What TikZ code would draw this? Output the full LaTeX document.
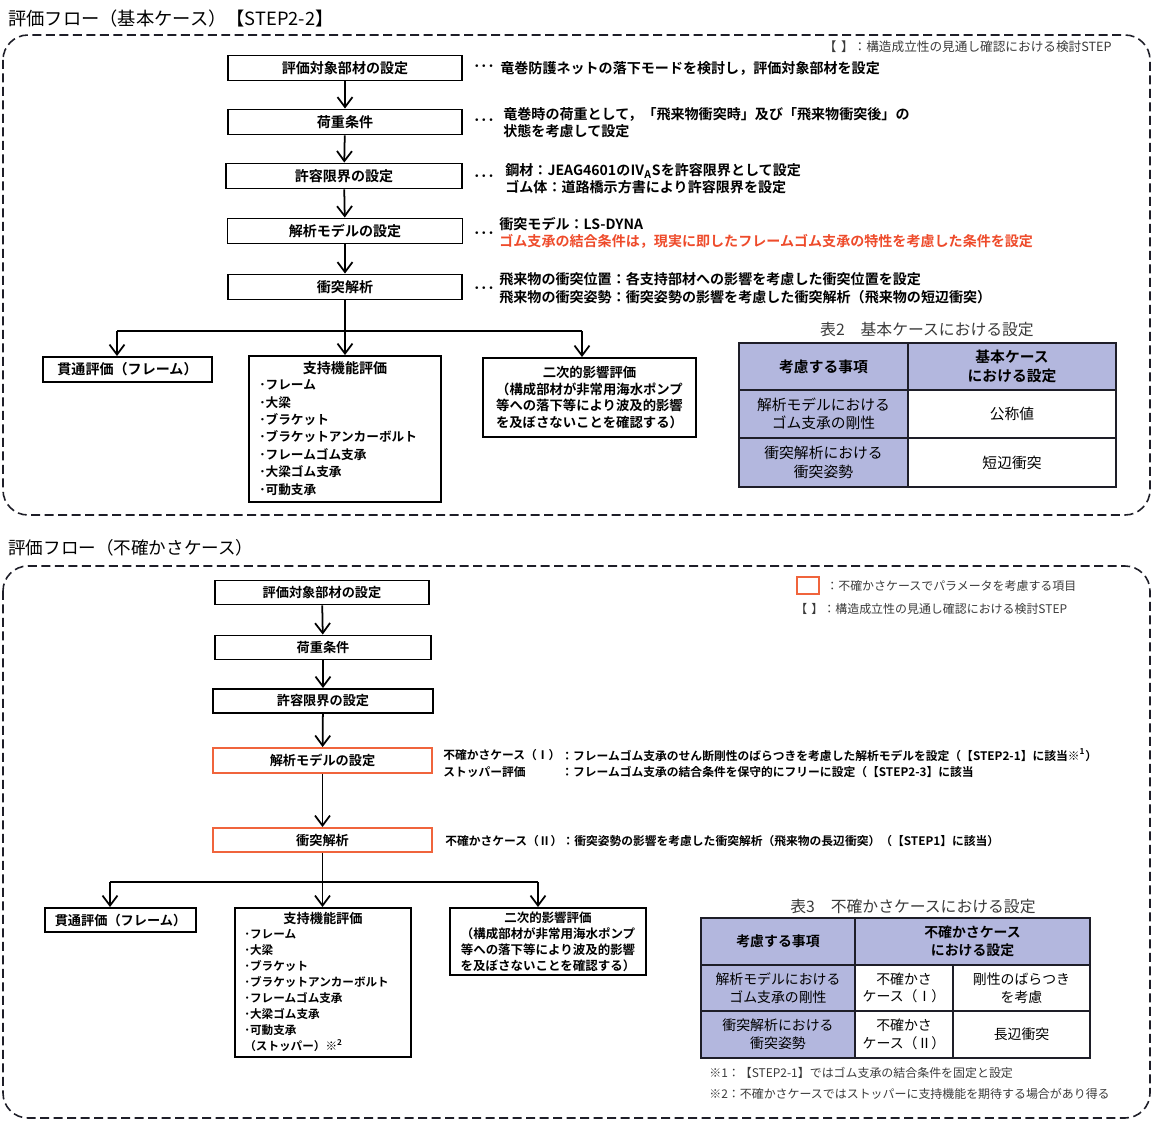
\documentclass[tikz,border=0pt]{standalone}
\usepackage{fontspec}
\setmainfont{Noto Sans CJK JP}[BoldFont={Noto Sans CJK JP Bold}]
\usepackage{tikz}
\usetikzlibrary{positioning,arrows.meta,calc}
\usepackage{xcolor}
\definecolor{lavanda}{HTML}{B3B7DE}
\definecolor{naranja}{HTML}{F0643C}
\definecolor{rojo}{HTML}{EE4B2B}
\definecolor{tinta}{HTML}{1E1E28}
\definecolor{gris}{HTML}{3A3A3A}

\tikzset{
  tam/.style 2 args={minimum width=#1*0.02cm, minimum height=#2*0.02cm},
  caja/.style={draw=black, line width=1.1pt, inner sep=0pt, align=center,
               font=\bfseries\fontsize{8}{9.7}\selectfont},
  cajab/.style={caja, font=\bfseries\fontsize{7.5}{9.1}\selectfont},
  cajan/.style={cajab, draw=naranja},
  flecha/.style={-{Straight Barb[length=2mm,width=3mm]}, line width=1pt},
  linea/.style={line width=1pt},
  marco/.style={draw=tinta, dashed, dash pattern=on 1.8mm off 0.9mm, line width=0.9pt,
                rounded corners=0.5cm},
  titulo/.style={anchor=west, inner sep=0pt, font=\fontsize{10}{12}\selectfont},
  nota/.style={anchor=west, align=left, inner sep=0pt, font=\bfseries\fontsize{8}{9.9}\selectfont},
  notab/.style={anchor=west, inner sep=0pt, font=\bfseries\fontsize{6.7}{8}\selectfont},
  puntos/.style={inner sep=0pt, font=\bfseries\fontsize{8}{8}\selectfont},
  lista/.style={anchor=west, align=left, inner sep=0pt, font=\bfseries\fontsize{7.2}{9.9}\selectfont},
  listab/.style={anchor=west, align=left, inner sep=0pt, font=\bfseries\fontsize{6.6}{9.1}\selectfont},
  leyenda/.style={inner sep=0pt, font=\fontsize{7.2}{8.5}\selectfont, text=gris},
  leyendab/.style={leyenda, anchor=west, font=\fontsize{6.8}{8}\selectfont},
  rotulo/.style={inner sep=0pt, font=\fontsize{9}{10}\selectfont, text=gris},
  celda/.style={draw=tinta, line width=1pt, inner sep=0pt, align=center,
                font=\fontsize{8.4}{10.5}\selectfont},
  celdal/.style={celda, fill=lavanda},
  celdah/.style={celdal, font=\bfseries\fontsize{8.4}{10.5}\selectfont},
  celdab/.style={celda, font=\fontsize{7.9}{10}\selectfont},
  celdabl/.style={celdab, fill=lavanda},
  celdabh/.style={celdabl, font=\bfseries\fontsize{7.9}{10}\selectfont},
  pie/.style={anchor=west, inner sep=0pt, font=\fontsize{6.8}{8}\selectfont, text=gris}
}

\begin{document}
\begin{tikzpicture}[x=0.02cm, y=-0.02cm]
\useasboundingbox (0,0) rectangle (1153,1122);

% ---------------- caso base
\node[titulo, font=\fontsize{10.4}{12}\selectfont] (tit1) at (8,19) {評価フロー（基本ケース）【STEP2-2】};
\draw[marco] (3,35) rectangle (1150,515);
\node[leyenda, anchor=east] (ley1) at (1112,47) {【\hspace{0.35em}】：構造成立性の見通し確認における検討STEP};

\node[caja, tam={234}{25}] (a1) at (345,68) {評価対象部材の設定};
\node[caja, tam={234}{25}] (a2) at (345,122) {荷重条件};
\node[caja, tam={236}{25}] (a3) at (344,176) {許容限界の設定};
\node[caja, tam={235}{25}] (a4) at (345,231) {解析モデルの設定};
\node[caja, tam={234}{25}] (a5) at (345,287) {衝突解析};
\foreach \i/\j in {a1/a2,a2/a3,a3/a4,a4/a5}
  \draw[flecha] (\i) -- (\j);

% notas
\node[puntos] (d1) at (484,68) {･･･};
\node[nota] (n1) at (500,68) {竜巻防護ネットの落下モードを検討し，評価対象部材を設定};
\node[puntos] (d2) at (484,122) {･･･};
\node[nota] (n2) at (503,122.5) {竜巻時の荷重として，「飛来物衝突時」及び「飛来物衝突後」の\\状態を考慮して設定};
\node[puntos] (d3) at (484,178) {･･･};
\node[nota] (n3) at (505,178.5) {鋼材：JEAG4601のⅣ\textsubscript{A}Sを許容限界として設定\\ゴム体：道路橋示方書により許容限界を設定};
\node[puntos] (d4) at (484,235) {･･･};
\node[nota] (n4) at (499,233) {衝突モデル：LS-DYNA\\\textcolor{rojo}{ゴム支承の結合条件は，現実に即したフレームゴム支承の特性を考慮した条件を設定}};
\node[puntos] (d5) at (484,290) {･･･};
\node[nota] (n5) at (499,288) {飛来物の衝突位置：各支持部材への影響を考慮した衝突位置を設定\\飛来物の衝突姿勢：衝突姿勢の影響を考慮した衝突解析（飛来物の短辺衝突）};

% ramas
\node[caja, tam={169}{25}] (p1) at (127.5,369.5) {貫通評価（フレーム）};
\node[caja, tam={192}{146}] (s1) at (345,429) {};
\node[caja, font=\bfseries\fontsize{8}{9.7}\selectfont, draw=none] (s1t) at (345,368) {支持機能評価};
\node[lista] (s1l) at (259,437.5) {･フレーム\\･大梁\\･ブラケット\\･ブラケットアンカーボルト\\･フレームゴム支承\\･大梁ゴム支承\\･可動支承};
\node[caja, tam={213}{79}, font=\bfseries\fontsize{7.6}{9.6}\selectfont] (q1) at (589.5,397.5)
  {二次的影響評価\\（構成部材が非常用海水ポンプ\\等への落下等により波及的影響\\を及ぼさないことを確認する）};

\coordinate (ul) at (117,331);
\coordinate (ur) at (582,331);
\draw[flecha] (a5) -- (s1);
\draw[linea] (ul) -- (ur);
\draw[flecha] (ul) -- (ul |- p1.north);
\draw[flecha] (ur) -- (ur |- q1.north);

% tabla 2
\node[rotulo] (cap2) at (927,330) {表2　基本ケースにおける設定};
\node[celdah, tam={169}{47}] (t2a) at (823.5,366.5) {考慮する事項};
\node[celdah, tam={208}{47}] (t2b) at (1012,366.5) {基本ケース\\における設定};
\node[celdal, tam={169}{48}] (t2c) at (823.5,414) {解析モデルにおける\\ゴム支承の剛性};
\node[celda, tam={208}{48}] (t2d) at (1012,414) {公称値};
\node[celdal, tam={169}{49}] (t2e) at (823.5,462.5) {衝突解析における\\衝突姿勢};
\node[celda, tam={208}{49}] (t2f) at (1012,462.5) {短辺衝突};

% ---------------- caso de incertidumbre
\node[titulo] (tit2) at (8,548) {評価フロー（不確かさケース）};
\draw[marco] (3,566) rectangle (1150,1118);
\node[draw=naranja, line width=1.3pt, inner sep=0pt, tam={22}{17}] (cuad) at (808,585.5) {};
\node[leyendab] (ley2) at (826,585.5) {：不確かさケースでパラメータを考慮する項目};
\node[leyendab] (ley3) at (795,609) {【\hspace{0.35em}】：構造成立性の見通し確認における検討STEP};

\node[cajab, tam={214}{24}] (b1) at (322,592.5) {評価対象部材の設定};
\node[cajab, tam={216}{24}] (b2) at (323,647.5) {荷重条件};
\node[cajab, tam={220}{24}] (b3) at (323,701) {許容限界の設定};
\node[cajan, tam={219}{25}] (b4) at (322.5,760.5) {解析モデルの設定};
\node[cajan, tam={219}{24}] (b5) at (322.5,840) {衝突解析};
\foreach \i/\j in {b1/b2,b2/b3,b3/b4,b4/b5}
  \draw[flecha] (\i) -- (\j);

% notas
\node[notab] (m1) at (443,755) {不確かさケース（Ⅰ）};
\node[notab] (m1t) at (561,755) {：フレームゴム支承のせん断剛性のばらつきを考慮した解析モデルを設定（【STEP2-1】に該当※\textsuperscript{1}）};
\node[notab] (m2) at (443,772) {ストッパー評価};
\node[notab] (m2t) at (561,772) {：フレームゴム支承の結合条件を保守的にフリーに設定（【STEP2-3】に該当};
\node[notab] (m3) at (445,841) {不確かさケース（Ⅱ）：衝突姿勢の影響を考慮した衝突解析（飛来物の長辺衝突）（【STEP1】に該当）};

% ramas
\node[cajab, tam={151}{24}] (p2) at (120.5,920) {貫通評価（フレーム）};
\node[cajab, tam={176}{149}] (s2) at (323,982.5) {};
\node[cajab, draw=none] (s2t) at (323,918) {支持機能評価};
\node[listab] (s2l) at (244,990.5) {･フレーム\\･大梁\\･ブラケット\\･ブラケットアンカーボルト\\･フレームゴム支承\\･大梁ゴム支承\\･可動支承\\（ストッパー）※\textsuperscript{2}};
\node[cajab, tam={196}{67}, font=\bfseries\fontsize{7.1}{9.1}\selectfont] (q2) at (548,941.5)
  {二次的影響評価\\（構成部材が非常用海水ポンプ\\等への落下等により波及的影響\\を及ぼさないことを確認する）};

\coordinate (vl) at (110,882);
\coordinate (vr) at (538,882);
\draw[flecha] (b5) -- (b5 |- s2.north);
\draw[linea] (vl) -- (vr);
\draw[flecha] (vl) -- (vl |- p2.north);
\draw[flecha] (vr) -- (vr |- q2.north);

% tabla 3
\node[rotulo] (cap3) at (913,907) {表3　不確かさケースにおける設定};
\node[celdabh, tam={154}{47}] (t3a) at (778,941.5) {考慮する事項};
\node[celdabh, tam={235}{47}] (t3b) at (972.5,941.5) {不確かさケース\\における設定};
\node[celdabl, tam={154}{46}] (t3c) at (778,988) {解析モデルにおける\\ゴム支承の剛性};
\node[celdab, tam={98}{46}] (t3d) at (904,988) {不確かさ\\ケース（Ⅰ）};
\node[celdab, tam={137}{46}] (t3e) at (1021.5,988) {剛性のばらつき\\を考慮};
\node[celdabl, tam={154}{47}] (t3f) at (778,1034.5) {衝突解析における\\衝突姿勢};
\node[celdab, tam={98}{47}] (t3g) at (904,1034.5) {不確かさ\\ケース（Ⅱ）};
\node[celdab, tam={137}{47}] (t3h) at (1021.5,1034.5) {長辺衝突};
\node[pie] (f1) at (709,1073) {※1：【STEP2-1】ではゴム支承の結合条件を固定と設定};
\node[pie] (f2) at (709,1094) {※2：不確かさケースではストッパーに支持機能を期待する場合があり得る};
\end{tikzpicture}
\end{document}
